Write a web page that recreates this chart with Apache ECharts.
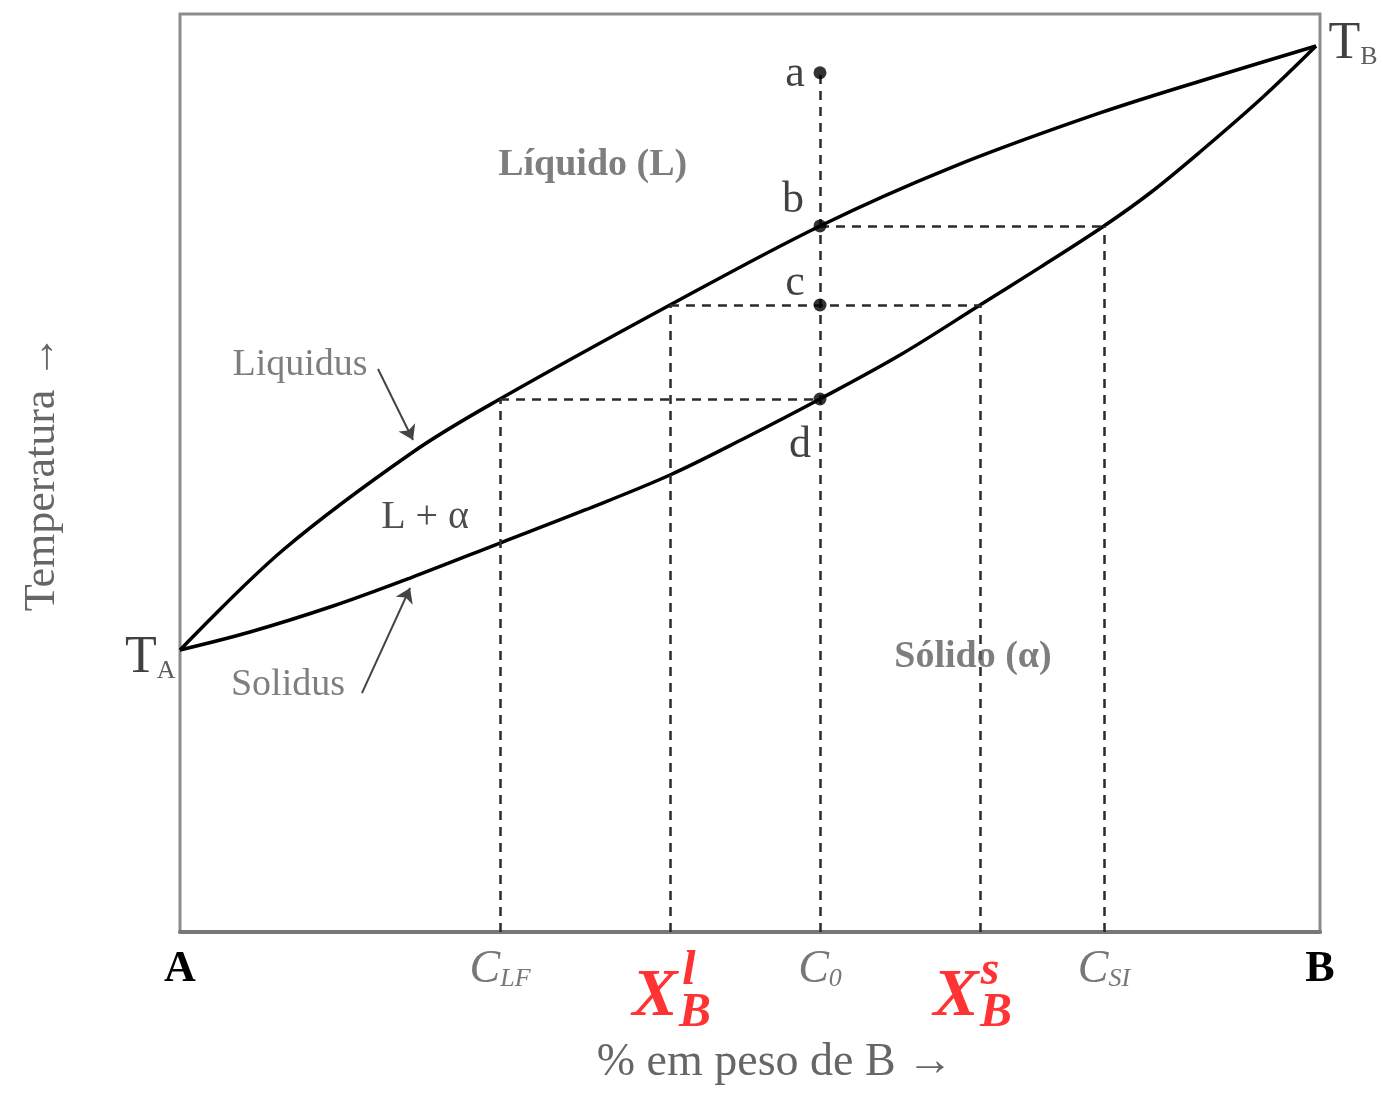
<!DOCTYPE html>
<html>
<head>
<meta charset="utf-8">
<script src="https://cdn.jsdelivr.net/npm/echarts@6.0.0/dist/echarts.min.js"></script>
<style>
  html, body { margin: 0; padding: 0; background: #fff; }
  #chart { width: 1383px; height: 1096px; }
</style>
</head>
<body>
<div id="chart"></div>
<script>
// curvas (x = % em peso de B, y = temperatura, escala 0..100)
const liquidusX = [0, 9.04, 20.44, 28.07, 42.98, 56.14, 67.54, 80.7, 92.11, 99.65];
const liquidusY = [30.72, 41.61, 52.29, 58.06, 68.3, 76.91, 83.22, 89.22, 93.68, 96.51];
const solidusX = [0, 6.14, 13.42, 20.18, 28.07, 35.53, 42.98, 49.56, 56.14, 63.16, 70.18, 75.44, 81.05, 85.09, 89.47, 95.0, 99.65];
const solidusY = [30.72, 32.68, 35.51, 38.56, 42.37, 45.97, 49.78, 53.81, 58.06, 62.85, 68.3, 72.4, 76.91, 80.5, 84.97, 90.96, 96.51];

// composicoes no eixo x
const tickValues = [0, 28.07, 56.14, 81.05, 100];
const tickMain = ['A', 'C', 'C', 'C', 'B'];
const tickSub = ['', 'LF', '0', 'SI', ''];
const xbValues = [42.98, 70.18];
const xbSup = ['l', 's'];
const xbLabelX = [41.67, 68.07];

// pontos a, b, c, d sobre C0
const pointNames = ['a', 'b', 'c', 'd'];
const pointX = [56.14, 56.14, 56.14, 56.14];
const pointY = [93.6, 76.91, 68.3, 58.06];
const pointLabelX = [53.95, 53.77, 53.95, 54.39];
const pointLabelY = [93.46, 79.74, 70.7, 53.05];

// textos das regioes
const regionNames = ['Líquido (L)', 'Sólido (α)'];
const regionX = [36.2, 69.56];
const regionY = [83.55, 29.96];
const twoPhaseName = ['L + α'];
const twoPhaseX = [21.5];
const twoPhaseY = [45.1];
const curveNames = ['Liquidus', 'Solidus'];
const curveLabelX = [10.53, 9.47];
const curveLabelY = [61.77, 26.9];
const arrowFrom = [[17.37, 61.33], [15.96, 26.03]];
const arrowTo = [[20.44, 53.6], [20.18, 37.47]];

const serif = '"Liberation Serif", "DejaVu Serif", serif';
const grayText = '#5e5e5e';

function zip(xs, ys) {
  return xs.map((x, i) => [x, ys[i]]);
}

// linhas tracejadas: verticais ate o eixo e horizontais (linhas de amarracao)
const dashSegments = [
  [[tickValues[1], 0], [tickValues[1], pointY[3]]],
  [[xbValues[0], 0], [xbValues[0], pointY[2]]],
  [[pointX[0], 0], [pointX[0], pointY[0]]],
  [[xbValues[1], 0], [xbValues[1], pointY[2]]],
  [[tickValues[3], 0], [tickValues[3], pointY[1]]],
  [[tickValues[1], pointY[3]], [pointX[3], pointY[3]]],
  [[xbValues[0], pointY[2]], [xbValues[1], pointY[2]]],
  [[pointX[1], pointY[1]], [tickValues[3], pointY[1]]]
];

function textSeries(xs, ys, names, style) {
  return {
    type: 'scatter',
    symbolSize: 1,
    itemStyle: { color: 'rgba(0,0,0,0)' },
    clip: false,
    silent: true,
    z: 5,
    data: xs.map((x, i) => ({ value: [x, ys[i]], name: names[i] })),
    label: Object.assign({
      show: true,
      position: 'inside',
      formatter: '{b}',
      fontFamily: serif
    }, style)
  };
}

let myChart = echarts.init(document.getElementById('chart'));
myChart.setOption({
  animation: false,
  backgroundColor: '#fff',
  grid: {
    left: 180, right: 63, top: 14, bottom: 164,
    outerBoundsMode: 'none',
    containLabel: false,
    show: true,
    borderColor: '#8c8c8c',
    borderWidth: 3
  },
  xAxis: {
    type: 'value',
    min: 0,
    max: 100,
    splitLine: { show: false },
    axisLine: { show: true, lineStyle: { color: '#777', width: 4 } },
    axisTick: { show: false },
    name: '% em peso de B →',
    nameLocation: 'middle',
    nameGap: 108,
    nameTextStyle: { fontFamily: serif, fontSize: 46, color: '#666', padding: [0, 0, 0, 50] },
    axisLabel: {
      customValues: tickValues,
      margin: 16,
      formatter: function (value) {
        let i = tickValues.findIndex(v => Math.abs(v - value) < 0.01);
        if (i < 0) return '';
        if (tickSub[i] === '') return '{m|' + tickMain[i] + '}';
        return '{c|' + tickMain[i] + '}{s|' + tickSub[i] + '}';
      },
      rich: {
        m: { fontFamily: serif, fontSize: 44, fontWeight: 'bold', color: '#000', lineHeight: 44 },
        c: { fontFamily: serif, fontSize: 46, fontStyle: 'italic', color: '#777', lineHeight: 44 },
        s: { fontFamily: serif, fontSize: 26, fontStyle: 'italic', color: '#777', lineHeight: 44, verticalAlign: 'bottom' }
      }
    }
  },
  yAxis: {
    type: 'value',
    min: 0,
    max: 100,
    splitLine: { show: false },
    axisLine: { show: false },
    axisTick: { show: false },
    axisLabel: { show: false },
    name: 'Temperatura →',
    nameLocation: 'middle',
    nameRotate: 90,
    nameGap: 116,
    nameTextStyle: { fontFamily: serif, fontSize: 44, color: '#666' }
  },
  series: [
    {
      name: 'Liquidus',
      type: 'line',
      data: zip(liquidusX, liquidusY),
      smooth: 0.35,
      symbol: 'none',
      lineStyle: { color: '#000', width: 3.5 },
      z: 4
    },
    {
      name: 'Solidus',
      type: 'line',
      data: zip(solidusX, solidusY),
      smooth: 0.35,
      symbol: 'none',
      lineStyle: { color: '#000', width: 3.5 },
      z: 4
    },
    {
      // tracejados
      type: 'line',
      data: [],
      markLine: {
        silent: true,
        symbol: 'none',
        label: { show: false },
        lineStyle: { color: '#2a2a2a', width: 2.5, type: [9, 7] },
        data: dashSegments.map(s => [{ coord: s[0] }, { coord: s[1] }])
      }
    },
    {
      // setas Liquidus / Solidus
      type: 'line',
      data: [],
      markLine: {
        silent: true,
        symbol: ['none', 'arrow'],
        symbolSize: 14,
        label: { show: false },
        lineStyle: { color: '#444', width: 2, type: 'solid' },
        data: arrowFrom.map((p, i) => [{ coord: p }, { coord: arrowTo[i] }])
      }
    },
    {
      // pontos a, b, c, d
      type: 'scatter',
      symbolSize: 13,
      itemStyle: { color: '#000' },
      data: zip(pointX, pointY),
      z: 6
    },
    textSeries(pointLabelX, pointLabelY, pointNames,
      { fontSize: 44, color: '#111' }),
    textSeries(regionX, regionY, regionNames,
      { fontSize: 38, color: grayText, fontWeight: 'bold' }),
    textSeries(twoPhaseX, twoPhaseY, twoPhaseName,
      { fontSize: 40, color: '#222' }),
    textSeries(curveLabelX, curveLabelY, curveNames,
      { fontSize: 38, color: grayText }),
    // TA e TB nas extremidades das curvas
    {
      type: 'scatter',
      symbolSize: 1,
      itemStyle: { color: 'rgba(0,0,0,0)' },
      clip: false,
      data: [
        { value: [liquidusX[0], liquidusY[0]], name: 'A', label: { position: 'left', distance: 4, offset: [0, 8] } },
        { value: [liquidusX[liquidusX.length - 1], liquidusY[liquidusY.length - 1]], name: 'B', label: { position: 'right', distance: 12, offset: [0, -2] } }
      ],
      label: {
        show: true,
        formatter: '{t|T}{s|{b}}',
        rich: {
          t: { fontFamily: serif, fontSize: 52, color: '#111', lineHeight: 52 },
          s: { fontFamily: serif, fontSize: 26, color: '#333', lineHeight: 52, verticalAlign: 'bottom' }
        }
      }
    },
    // rotulos vermelhos X_B^l e X_B^s
    textSeries(xbLabelX, [-7.1, -7.1], ['X', 'X'],
      { fontSize: 68, color: '#ff0000', fontWeight: 'bold', fontStyle: 'italic' }),
    textSeries(xbLabelX, [-7.1, -7.1], xbSup,
      { fontSize: 48, color: '#ff0000', fontWeight: 'bold', fontStyle: 'italic', offset: [34, -26] }),
    textSeries(xbLabelX, [-7.1, -7.1], ['B', 'B'],
      { fontSize: 48, color: '#ff0000', fontWeight: 'bold', fontStyle: 'italic', offset: [40, 16] })
  ]
});
window.onresize = () => {
  myChart.resize();
};
</script>
</body>
</html>
